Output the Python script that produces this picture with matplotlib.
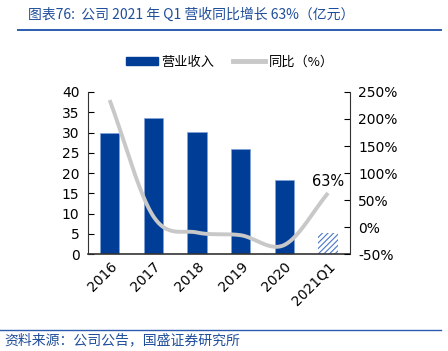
import numpy as np
import matplotlib
matplotlib.use('Agg')
from matplotlib import pyplot as plt
from matplotlib.lines import Line2D
from matplotlib.patches import Patch

plt.rcParams['font.family'] = ['DejaVu Sans', 'Noto Sans CJK SC']
plt.rcParams['hatch.color'] = '#4a78c8'
plt.rcParams['hatch.linewidth'] = 0.8

#data
years = ['2016', '2017', '2018', '2019', '2020', '2021Q1']
revenue = [29.8, 33.6, 30.2, 25.9, 18.3, 5.3]      # 亿元
yoy = [235, 20, -10, -15, -33, 63]                  # %

title_txt = '图表76:  公司 2021 年 Q1 营收同比增长 63%（亿元）'
source_txt = '资料来源：公司公告，国盛证券研究所'
blue = '#003d96'
txt_blue = '#1f4e9a'
gray = '#c8c8c8'

#smooth curve through the points (cardinal spline, like excel smoothing)
def smooth(x, y, n=30, k=0.5):
    x = np.asarray(x, float); y = np.asarray(y, float)
    px = np.concatenate([[2*x[0]-x[1]], x, [2*x[-1]-x[-2]]])
    py = np.concatenate([[2*y[0]-y[1]], y, [2*y[-1]-y[-2]]])
    xs, ys = [], []
    t = np.linspace(0, 1, n)
    h00 = 2*t**3 - 3*t**2 + 1
    h10 = t**3 - 2*t**2 + t
    h01 = -2*t**3 + 3*t**2
    h11 = t**3 - t**2
    for i in range(1, len(px)-2):
        for p, out in ((px, xs), (py, ys)):
            m1 = k*(p[i+1]-p[i-1])
            m2 = k*(p[i+2]-p[i])
            out.append(h00*p[i] + h10*m1 + h01*p[i+1] + h11*m2)
    return np.concatenate(xs), np.concatenate(ys)

fig = plt.figure(figsize=(4.48, 3.51), dpi=100)
ax = fig.add_axes([0.196, 0.276, 0.585, 0.462])
x = np.arange(len(years))

ax.bar(x[:-1], revenue[:-1], width=0.44, color=blue, edgecolor='#7fa3d8', linewidth=0.5)
ax.bar(x[-1], revenue[-1], width=0.44, color='white', edgecolor='#4a78c8', hatch='//////', linewidth=0)

ax.set_xlim(-0.5, len(years)-0.5)
ax.set_ylim(0, 40)
ax.set_yticks(np.arange(0, 41, 5))
ax.set_xticks(x)
ax.set_xticklabels(years, rotation=45, ha='right', rotation_mode='anchor', fontsize=10)
ax.tick_params(axis='y', direction='in', length=4, labelsize=10, pad=6)
ax.tick_params(axis='x', length=0, pad=4)
ax.spines['top'].set_visible(False)
ax.spines['right'].set_visible(False)
for s in ['left', 'bottom']:
    ax.spines[s].set_color('#333333')
ax.spines['bottom'].set_linewidth(1.2)

ax2 = ax.twinx()
sx, sy = smooth(x, yoy)
ax2.plot(sx, sy, color=gray, lw=2.8, solid_capstyle='butt')
ax2.set_ylim(-50, 250)
ax2.set_yticks(np.arange(-50, 251, 50))
ax2.set_yticklabels([f'{v}%' for v in range(-50, 251, 50)])
ax2.tick_params(axis='y', direction='in', length=4, labelsize=10, pad=6)
ax2.spines['top'].set_visible(False)
ax2.spines['left'].set_visible(False)
ax2.spines['bottom'].set_visible(False)
ax2.spines['right'].set_color('#333333')
ax2.text(x[-1], yoy[-1] + 8, f'{yoy[-1]}%', ha='center', va='bottom', fontsize=10.5)

#legend
handles = [Patch(facecolor=blue, edgecolor=blue),
           Line2D([0], [0], color=gray, lw=3.5)]
fig.legend(handles, ['营业收入', '同比（%）'], loc='center', bbox_to_anchor=(0.513, 0.823),
           ncol=2, frameon=False, handlelength=2.4, handleheight=0.6,
           columnspacing=1.4, handletextpad=0.3,
           prop={'family': ['Noto Sans CJK SC'], 'size': 9.5})

#title & source
fig.text(0.062, 0.957, title_txt, color=txt_blue, fontsize=10, va='center',
         family=['Noto Sans CJK SC', 'DejaVu Sans'])
fig.add_artist(Line2D([0.04, 0.985], [0.915, 0.915], color='#2b5cae', lw=1.4))
fig.add_artist(Line2D([0.0, 0.985], [0.06, 0.06], color='#2b5cae', lw=1.0))
fig.text(0.01, 0.03, source_txt, color=txt_blue, fontsize=10, va='center',
         family=['Noto Sans CJK SC', 'DejaVu Sans'])

plt.savefig('out.png', dpi=100)
